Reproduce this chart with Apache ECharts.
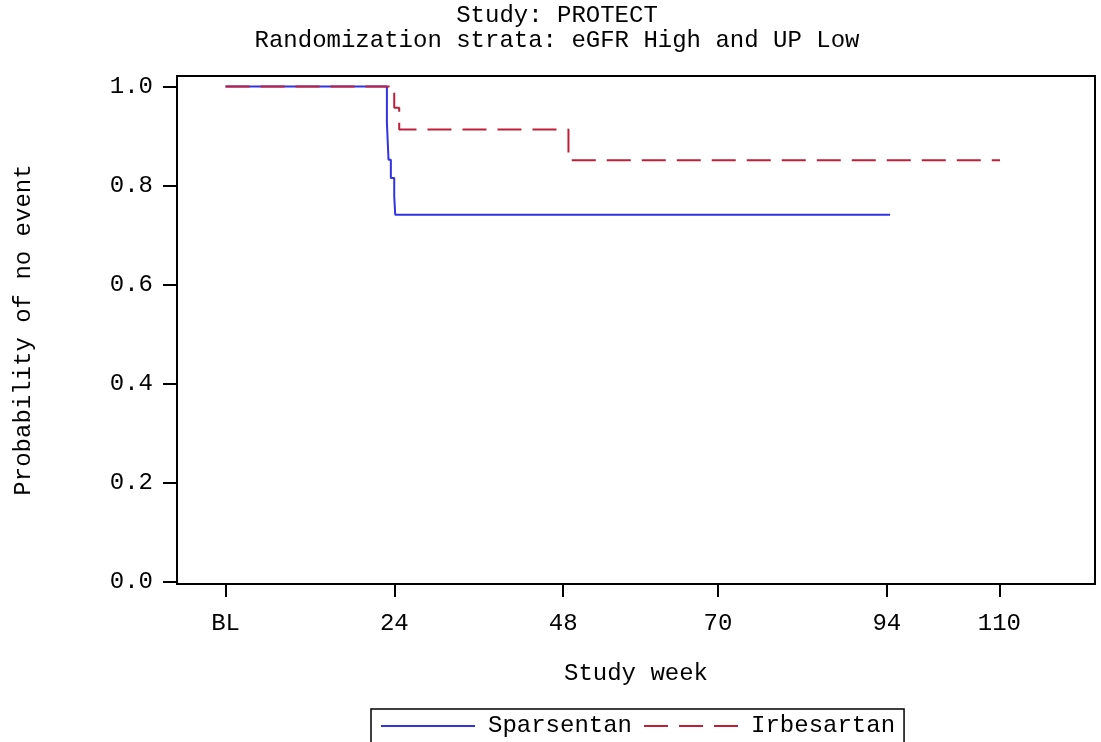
<!DOCTYPE html>
<html>
<head>
<meta charset="utf-8">
<title>PROTECT – Kaplan–Meier</title>
<script src="https://cdn.jsdelivr.net/npm/echarts@6/dist/echarts.min.js"></script>
<style>
  html, body { margin: 0; padding: 0; background: #fff; }
  #chart { width: 1101px; height: 742px; }
</style>
</head>
<body>
<div id="chart"></div>
<script>
// Kaplan–Meier estimates: study week of each step and survival after it
const sparsentanWeeks = [0, 22.94, 23.17, 23.5, 23.98, 24.12, 94.47];
const sparsentanSurv  = [1.0, 0.926, 0.852, 0.815, 0.778, 0.741, 0.741];

const irbesartanWeeks = [0, 23.98, 24.69, 48.75, 110.1];
const irbesartanSurv  = [1.0, 0.957, 0.913, 0.851, 0.851];

// Visit weeks shown on the x axis, and their labels
const xTickValues = [0, 24, 48, 70, 94, 110];
const xTickLabels = ['BL', '24', '48', '70', '94', '110'];
const yTickValues = [0, 0.2, 0.4, 0.6, 0.8, 1.0];

const seriesNames = ['Sparsentan', 'Irbesartan'];
const titleLines = ['Study: PROTECT', 'Randomization strata: eGFR High and UP Low'];

const FONT = "'Liberation Mono', 'DejaVu Sans Mono', monospace";
const FS = 24;

const pairs = (xs, ys) => xs.map((x, i) => [x, ys[i]]);

const chart = echarts.init(document.getElementById('chart'), null, { renderer: 'canvas' });

chart.setOption({
  animation: false,
  backgroundColor: '#ffffff',
  textStyle: { fontFamily: FONT, fontSize: FS, color: '#000' },
  graphic: [{
    type: 'text',
    x: 557,
    y: 3,
    style: {
      text: titleLines.join('\n'),
      align: 'center',
      verticalAlign: 'top',
      fontFamily: FONT,
      fontSize: FS,
      lineHeight: 25,
      fill: '#000'
    }
  }],
  grid: {
    left: 177, right: 6, top: 76, bottom: 158,
    show: true, borderColor: '#000', borderWidth: 2, backgroundColor: 'transparent'
  },
  legend: {
    data: seriesNames,
    left: 371,
    top: 709,
    orient: 'horizontal',
    padding: [5, 9, 5, 9],
    itemGap: 11,
    itemWidth: 94,
    itemHeight: 24,
    itemStyle: { opacity: 0 },
    lineStyle: { width: 2 },
    borderColor: '#000',
    borderWidth: 1.5,
    textStyle: { fontFamily: FONT, fontSize: FS, color: '#000', padding: [0, 0, 0, 8] }
  },
  xAxis: {
    type: 'value',
    min: -6.9,
    max: 123.6,
    name: 'Study week',
    nameLocation: 'middle',
    nameGap: 78,
    nameTextStyle: { fontFamily: FONT, fontSize: FS, color: '#000' },
    axisLine: { show: true, onZero: false, lineStyle: { color: '#000', width: 2 } },
    axisTick: { show: true, length: 13, customValues: xTickValues, lineStyle: { color: '#000', width: 2 } },
    axisLabel: {
      show: true,
      customValues: xTickValues,
      margin: 28,
      fontFamily: FONT,
      fontSize: FS,
      color: '#000',
      formatter: v => xTickLabels[xTickValues.indexOf(v)] ?? String(v)
    },
    splitLine: { show: false }
  },
  yAxis: {
    type: 'value',
    min: -0.005,
    max: 1.021,
    name: 'Probability of no event',
    nameLocation: 'middle',
    nameGap: 141,
    nameTextStyle: { fontFamily: FONT, fontSize: FS, color: '#000' },
    axisLine: { show: true, onZero: false, lineStyle: { color: '#000', width: 2 } },
    axisTick: { show: true, length: 14, customValues: yTickValues, lineStyle: { color: '#000', width: 2 } },
    axisLabel: {
      show: true,
      customValues: yTickValues,
      margin: 24,
      fontFamily: FONT,
      fontSize: FS,
      color: '#000',
      formatter: v => v.toFixed(1)
    },
    splitLine: { show: false }
  },
  series: [
    {
      name: seriesNames[0],
      type: 'line',
      step: 'end',
      symbol: 'none',
      data: pairs(sparsentanWeeks, sparsentanSurv),
      lineStyle: { color: '#3232e6', width: 2, type: 'solid' },
      itemStyle: { color: '#3232e6' },
      z: 2
    },
    {
      name: seriesNames[1],
      type: 'line',
      step: 'end',
      symbol: 'none',
      data: pairs(irbesartanWeeks, irbesartanSurv),
      lineStyle: { color: '#c01f3a', width: 2, type: [24, 11] },
      itemStyle: { color: '#c01f3a' },
      z: 3
    }
  ]
});
</script>
</body>
</html>
